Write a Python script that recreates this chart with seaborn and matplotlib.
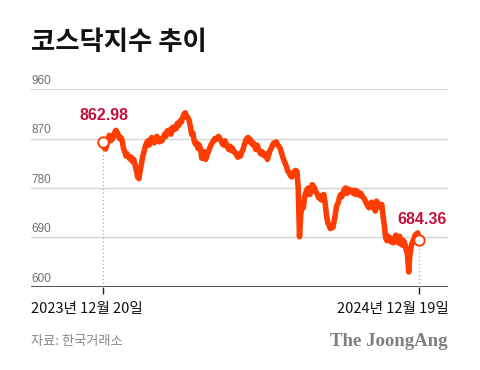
import matplotlib
matplotlib.use("Agg")
import matplotlib.pyplot as plt
import seaborn as sns
import pandas as pd
import numpy as np

title = "코스닥지수 추이"
source = "자료: 한국거래소"
brand = "The JoongAng"
start_label = "2023년 12월 20일"
end_label = "2024년 12월 19일"
y_ticks = [600, 690, 780, 870, 960]

dec23 = [862.98, 853, 851, 858, 868, 876]
jan = [866, 868, 872, 880, 885, 882, 876, 870, 872, 866, 852, 846, 838, 842, 836, 833,
       836, 828, 832, 822, 812, 800]
feb = [797, 812, 824, 838, 846, 856, 862, 866, 858, 868, 872, 866, 862, 870, 874, 868,
       864, 870, 866]
mar = [872, 878, 874, 884, 880, 886, 878, 890, 886, 892, 888, 898, 894, 902, 900, 908,
       914, 917, 912, 908]
apr = [904, 892, 878, 880, 866, 860, 862, 852, 858, 850, 834, 836, 846, 832, 840, 846,
       852, 858, 862, 866, 870]
may = [868, 872, 874, 870, 866, 860, 858, 866, 860, 854, 850, 856, 848, 852, 846, 844,
       840, 836, 842, 838, 845]
jun = [850, 858, 866, 870, 872, 864, 868, 860, 862, 856, 850, 858, 852, 846, 842, 846,
       840, 838, 842]
jul = [832, 840, 848, 852, 858, 862, 860, 864, 858, 856, 852, 844, 836, 830, 824, 818,
       810, 808, 802, 800, 806, 810, 812]
aug = [810, 779, 691, 732, 748, 744, 764, 772, 778, 780, 768, 774, 786, 782, 778, 772,
       768, 762, 766, 758, 766]
sep = [768, 752, 730, 716, 712, 706, 712, 708, 720, 734, 748, 752, 762, 768, 764, 772,
       778, 780, 770]
octo = [778, 774, 776, 772, 770, 776, 768, 774, 772, 766, 770, 764, 762, 758, 752, 748,
        744, 750, 754, 746, 743]
nov = [738, 756, 752, 748, 744, 750, 730, 712, 690, 684, 692, 690, 682, 688, 680, 684,
       694, 690, 680, 692, 678]
dec24 = [676, 684, 678, 668, 660, 627, 660, 674, 682, 686, 694, 696, 698, 684.36]

values = dec23 + jan + feb + mar + apr + may + jun + jul + aug + sep + octo + nov + dec24
df = pd.DataFrame({"day": np.arange(len(values)), "kosdaq": values})

sns.set_theme(style="white")
plt.rcParams["font.family"] = ["Noto Sans CJK KR", "DejaVu Sans"]

LINE = "#ff3d00"
RED = "#c4103a"

fig = plt.figure(figsize=(4.8, 3.7), dpi=100)
ax = fig.add_axes([0.0646, 0.225, 0.868, 0.534])

n = len(values)
first, last = 0, n - 1
px = (n - 1) / 316.3
ax.set_xlim(first - 72 * px, last + 28.7 * px)
ax.set_ylim(600, 960)

for t in y_ticks[1:]:
    ax.axhline(t, color="#d4d4d4", lw=1.0, zorder=0)
ax.axhline(600, color="#222222", lw=1.1, zorder=1)

ax.vlines([first], 600, values[0], colors="#aaaaaa", linestyles=(0, (1, 2)), lw=0.9, zorder=1)
ax.vlines([last], 600, values[-1], colors="#aaaaaa", linestyles=(0, (1, 2)), lw=0.9, zorder=1)

sns.lineplot(data=df, x="day", y="kosdaq", ax=ax, color=LINE, lw=4.0,
             solid_joinstyle="round", solid_capstyle="round", zorder=3, legend=False)
ax.plot([first, last], [values[0], values[-1]], "o", ms=7.5, mfc="white", mec=LINE,
        mew=1.4, zorder=4)

ax.annotate(f"{values[0]:.2f}", (first, values[0]), xytext=(1, 14), textcoords="offset points",
            ha="center", va="bottom", color=RED, fontsize=11.5, fontweight="bold",
            family=["Liberation Sans", "DejaVu Sans"])
ax.annotate(f"{values[-1]:.2f}", (last, values[-1]), xytext=(2, 10), textcoords="offset points",
            ha="center", va="bottom", color=RED, fontsize=11.5, fontweight="bold",
            family=["Liberation Sans", "DejaVu Sans"])

for t in y_ticks:
    ax.text(0.0, t + 4, str(t), transform=ax.get_yaxis_transform(), ha="left", va="bottom",
            color="#6f6f6f", fontsize=8.5, family=["Liberation Sans", "DejaVu Sans"])

ax.set_xticks([first, last])
ax.set_xticklabels(["", ""])
ax.tick_params(axis="x", bottom=True, length=5, width=1, color="#222222", pad=0)
ax.set_yticks([])
ax.set_xlabel("")
ax.set_ylabel("")
for s in ax.spines.values():
    s.set_visible(False)

fig.text(31 / 480, 1 - 309 / 370, start_label, ha="left", va="center", fontsize=10.5,
         color="#111111")
fig.text(449 / 480, 1 - 309 / 370, end_label, ha="right", va="center", fontsize=10.5,
         color="#111111")

fig.text(31 / 480, 1 - 42.5 / 370, title, ha="left", va="center", fontsize=19,
         fontweight="black", color="#111111")
fig.text(31 / 480, 1 - 342 / 370, source, ha="left", va="center", fontsize=9.5, color="#888888")
fig.text(448 / 480, 1 - 342 / 370, brand, ha="right", va="center", fontsize=13.5,
         fontweight="bold", color="#7f7f7f", family=["Liberation Serif", "DejaVu Serif"])

fig.savefig("out.png", dpi=100, facecolor="white")
